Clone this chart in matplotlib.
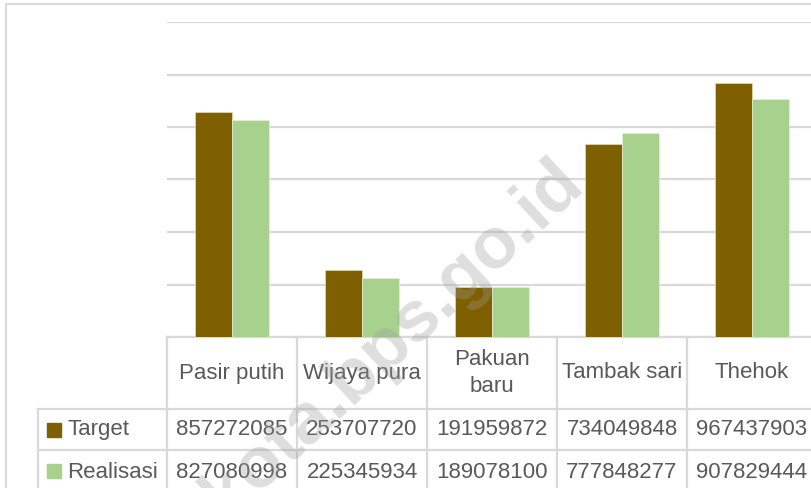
import numpy as np
import matplotlib.pyplot as plt
from matplotlib.patches import Rectangle
from matplotlib.lines import Line2D

categories = ["Pasir putih", "Wijaya pura", "Pakuan\nbaru", "Tambak sari", "Thehok"]
target = [857272085, 253707720, 191959872, 734049848, 967437903]
realisasi = [827080998, 225345934, 189078100, 777848277, 907829444]
series_names = ["Target", "Realisasi"]
colors = ["#7F6000", "#A9D18E"]
yticks = [0, 200e6, 400e6, 600e6, 800e6, 1000e6, 1200e6]

txt = "#595959"
grid = "#d9d9d9"
plt.rcParams['font.family'] = ["Liberation Sans", "DejaVu Sans"]
fs = 16

fig = plt.figure(figsize=(8.11, 4.88), dpi=100)
W, H = 811, 488

# chart border
fig.add_artist(Rectangle((6 / W, -0.1), 1.2, (484 + 49) / H, transform=fig.transFigure,
                         fill=False, edgecolor=grid, linewidth=1.5))

# plot area (runs past the right edge, as in the reference)
ax = fig.add_axes([167 / W, 1 - 337 / H, 650 / W, 315 / H])
x = np.arange(len(categories))
bw = 0.285
ax.bar(x - bw / 2, target, bw, color=colors[0], edgecolor="#e8dcb0", linewidth=0.5, zorder=3)
ax.bar(x + bw / 2, realisasi, bw, color=colors[1], edgecolor="#e6f2dc", linewidth=0.5, zorder=3)
ax.set_xlim(-0.5, len(categories) - 0.5)
ax.set_ylim(0, 1200e6)
ax.set_yticks(yticks)
ax.set_xticks([])
ax.tick_params(left=False, labelleft=False)
ax.grid(axis="y", color=grid, linewidth=1.6, zorder=0)
for s in ax.spines.values():
    s.set_visible(False)

# data table below the plot area
tr = ax.get_xaxis_transform()
ph = 315.0
def ay(py):
    return (337 - py) / ph

y_hdr, y_r1, y_r2, y_bot = ay(337), ay(409), ay(450), ay(492)
x_left = -0.5 - (167 - 38) / 130.0
lines = [
    ([-0.5, 5.5], [y_hdr, y_hdr]),
    ([x_left, 5.5], [y_r1, y_r1]),
    ([x_left, 5.5], [y_r2, y_r2]),
    ([x_left, 5.5], [y_bot, y_bot]),
    ([x_left, x_left], [y_r1, y_bot]),
]
for b in np.arange(len(categories) + 1) - 0.5:
    lines.append(([b, b], [y_hdr, y_bot]))
for lx, ly in lines:
    ax.add_line(Line2D(lx, ly, transform=tr, color=grid, linewidth=1.6, clip_on=False))

row1 = (y_r1 + y_r2) / 2
row2 = (y_r2 + y_bot) / 2 - 0.005
for i, c in enumerate(categories):
    ax.text(i, (y_hdr + y_r1) / 2, c, transform=tr, ha="center", va="center",
            fontsize=fs, color=txt, linespacing=1.4)
    ax.text(i, row1, str(target[i]), transform=tr, ha="center",
            va="center", fontsize=fs, color=txt)
    ax.text(i, row2, str(realisasi[i]), transform=tr, ha="center",
            va="center", fontsize=fs, color=txt)

for j, (name, col) in enumerate(zip(series_names, colors)):
    fig.add_artist(Rectangle((47 / W, 1 - (437 + 41 * j) / H), 14 / W, 14 / H,
                             transform=fig.transFigure, color=col))
    ax.text(-0.5 - (167 - 67) / 130.0, [row1, row2][j], name, transform=tr,
            ha="left", va="center", fontsize=fs, color=txt)

# watermark
fig.text(572 / W, 1 - 172 / H, "kota.bps.go.id", rotation=43, rotation_mode="anchor",
         ha="right", va="center", fontsize=52, fontweight="bold", color="#9a9a9a",
         alpha=0.32, zorder=10)

plt.savefig("out.png", dpi=100)
